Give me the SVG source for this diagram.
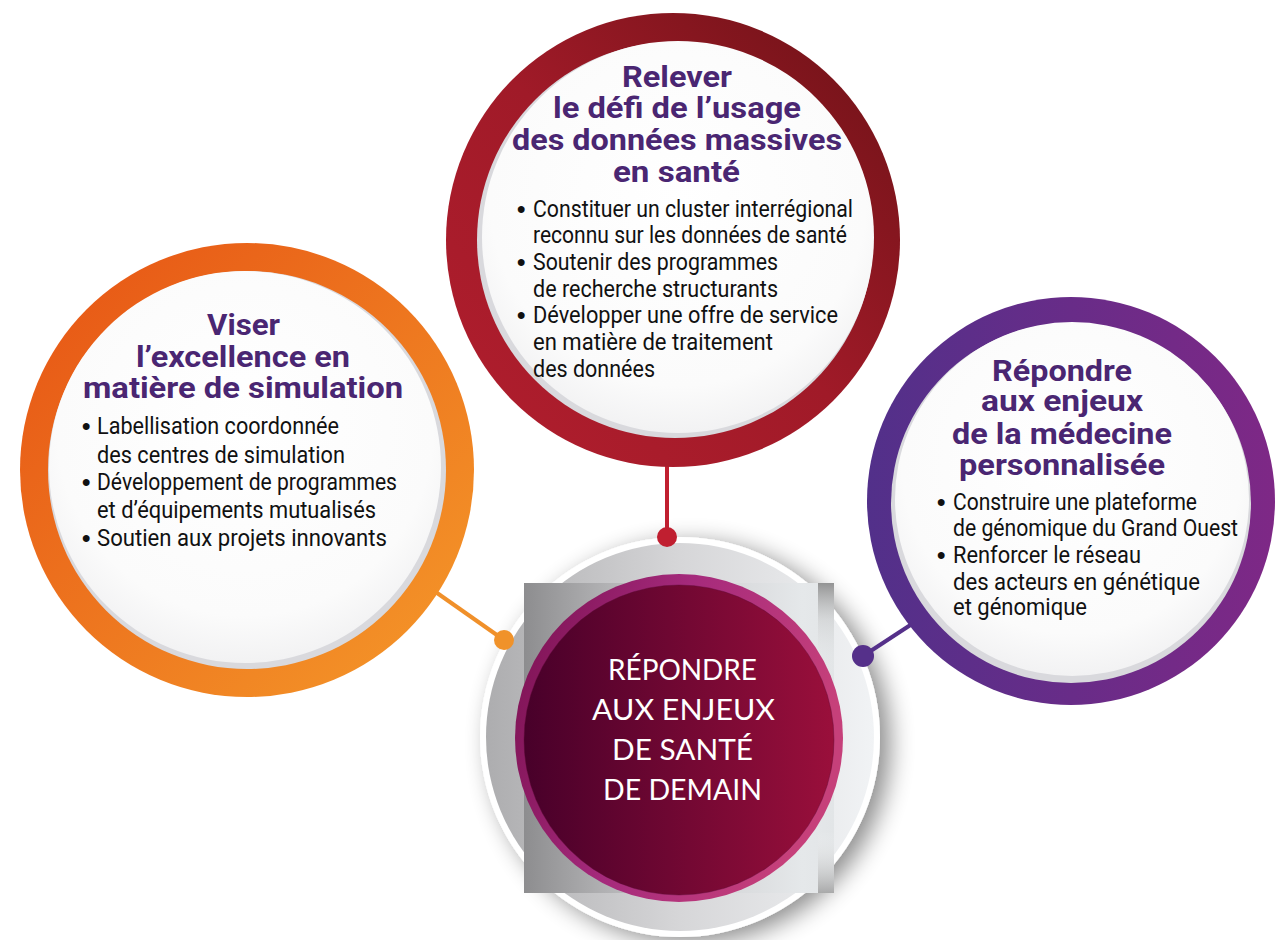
<svg xmlns="http://www.w3.org/2000/svg" width="1285" height="940" viewBox="0 0 1285 940">
<defs>
<linearGradient id="gOrange" x1="0" y1="0" x2="1" y2="1"><stop offset="0" stop-color="#e65214"/><stop offset="1" stop-color="#f59a2a"/></linearGradient>
<linearGradient id="gRed" x1="0" y1="1" x2="1" y2="0"><stop offset="0" stop-color="#b21e2e"/><stop offset="0.5" stop-color="#a01a28"/><stop offset="1" stop-color="#6c1216"/></linearGradient>
<linearGradient id="gPurple" x1="0" y1="0" x2="1" y2="0"><stop offset="0" stop-color="#52308a"/><stop offset="1" stop-color="#7e2886"/></linearGradient>
<radialGradient id="gWhite" cx="0.5" cy="0.4" r="0.6"><stop offset="0" stop-color="#ffffff"/><stop offset="0.8" stop-color="#fbfbfb"/><stop offset="1" stop-color="#f2f2f3"/></radialGradient>
<linearGradient id="gGreyDisc" x1="0" y1="0" x2="1" y2="0"><stop offset="0" stop-color="#adadaf"/><stop offset="0.5" stop-color="#d6d6d8"/><stop offset="1" stop-color="#f1f3f5"/></linearGradient>
<linearGradient id="gSquare" x1="0" y1="0" x2="1" y2="0"><stop offset="0" stop-color="#8d8d8f"/><stop offset="0.45" stop-color="#cbcbcd"/><stop offset="0.9" stop-color="#e5e8ea"/><stop offset="1" stop-color="#e2e5e7"/></linearGradient>
<linearGradient id="gStrip" x1="0" y1="0" x2="0" y2="1"><stop offset="0" stop-color="#8a8a8a" stop-opacity="0.9"/><stop offset="0.12" stop-color="#b8b8b8" stop-opacity="0.3"/><stop offset="0.3" stop-color="#ffffff" stop-opacity="0"/><stop offset="0.8" stop-color="#ffffff" stop-opacity="0"/><stop offset="1" stop-color="#9a9a9a" stop-opacity="0.8"/></linearGradient>
<linearGradient id="gMagenta" x1="0" y1="0" x2="1" y2="0.3"><stop offset="0" stop-color="#7a1050"/><stop offset="0.5" stop-color="#a52a7c"/><stop offset="1" stop-color="#c6407a"/></linearGradient>
<linearGradient id="gDark" x1="0" y1="0" x2="1" y2="0"><stop offset="0" stop-color="#48002a"/><stop offset="1" stop-color="#9a0f3b"/></linearGradient>
<filter id="shadow" x="-30%" y="-30%" width="160%" height="160%"><feGaussianBlur in="SourceAlpha" stdDeviation="12"/><feOffset dx="10" dy="6"/><feComponentTransfer><feFuncA type="linear" slope="0.45"/></feComponentTransfer><feMerge><feMergeNode/><feMergeNode in="SourceGraphic"/></feMerge></filter>
<style>
.title{font-family:"Liberation Sans Narrow","Roboto","Liberation Sans",sans-serif;font-weight:bold;font-size:30px;fill:#4a2672}
.body{font-family:"Liberation Sans Narrow","Roboto","Liberation Sans",sans-serif;font-size:23px;fill:#111111}
.bullet{font-family:"Liberation Sans",sans-serif;font-weight:bold;font-size:24px;fill:#111111}
.center{font-family:"Lato","Liberation Sans",sans-serif;font-size:28px;fill:#ffffff}
.inset{fill:#d9d9dd}
</style>
</defs>
<rect width="1285" height="940" fill="#ffffff"/>

<g id="center-node">
<circle cx="680" cy="737" r="200" fill="#ffffff" filter="url(#shadow)"/>
<circle cx="680" cy="737" r="194" fill="url(#gGreyDisc)"/>
<rect x="524" y="583" width="310" height="310" fill="url(#gSquare)"/>
<rect x="818" y="583" width="16" height="310" fill="url(#gStrip)"/>
<circle cx="679" cy="738" r="164" fill="url(#gMagenta)"/>
<circle cx="679" cy="740" r="155" fill="url(#gDark)" stroke="#5a0a34" stroke-opacity="0.4" stroke-width="1"/>
<text class="center" x="608" y="680" textLength="149" lengthAdjust="spacingAndGlyphs">RÉPONDRE</text>
<text class="center" x="592" y="720" textLength="183" lengthAdjust="spacingAndGlyphs">AUX ENJEUX</text>
<text class="center" x="612" y="760" textLength="141" lengthAdjust="spacingAndGlyphs">DE SANTÉ</text>
<text class="center" x="603" y="800" textLength="159" lengthAdjust="spacingAndGlyphs">DE DEMAIN</text>
</g>

<g id="connectors">
<line x1="667" y1="460" x2="667" y2="537" stroke="#c01f30" stroke-width="4"/>
<circle cx="667" cy="537" r="10" fill="#c01f30"/>
<line x1="420" y1="581" x2="504" y2="640" stroke="#f0902a" stroke-width="4"/>
<circle cx="504" cy="640" r="10" fill="#f0922a"/>
<line x1="915" y1="622" x2="863" y2="656" stroke="#55308a" stroke-width="4"/>
<circle cx="863" cy="656" r="11" fill="#55308a"/>
</g>

<g id="node-simulation">
<circle cx="247" cy="470" r="227" fill="url(#gOrange)"/>
<circle class="inset" cx="247" cy="470" r="199"/>
<circle cx="245" cy="467" r="196" fill="url(#gWhite)"/>
<text class="title" x="207" y="335" textLength="73" lengthAdjust="spacingAndGlyphs">Viser</text>
<text class="title" x="136" y="367" textLength="214" lengthAdjust="spacingAndGlyphs">l’excellence en</text>
<text class="title" x="83" y="398" textLength="320" lengthAdjust="spacingAndGlyphs">matière de simulation</text>
<text class="bullet" x="82" y="434">•</text>
<text class="body" x="97" y="434" textLength="242" lengthAdjust="spacingAndGlyphs">Labellisation coordonnée</text>
<text class="body" x="97" y="463" textLength="248" lengthAdjust="spacingAndGlyphs">des centres de simulation</text>
<text class="bullet" x="82" y="490">•</text>
<text class="body" x="97" y="490" textLength="300" lengthAdjust="spacingAndGlyphs">Développement de programmes</text>
<text class="body" x="97" y="518" textLength="279" lengthAdjust="spacingAndGlyphs">et d’équipements mutualisés</text>
<text class="bullet" x="82" y="546">•</text>
<text class="body" x="97" y="546" textLength="290" lengthAdjust="spacingAndGlyphs">Soutien aux projets innovants</text>
</g>

<g id="node-donnees">
<circle cx="673" cy="240" r="227" fill="url(#gRed)"/>
<circle class="inset" cx="675" cy="240" r="198"/>
<circle cx="678" cy="237" r="196" fill="url(#gWhite)"/>
<text class="title" x="622" y="87" textLength="110" lengthAdjust="spacingAndGlyphs">Relever</text>
<text class="title" x="553" y="118" textLength="248" lengthAdjust="spacingAndGlyphs">le défi de l’usage</text>
<text class="title" x="512" y="150" textLength="330" lengthAdjust="spacingAndGlyphs">des données massives</text>
<text class="title" x="613" y="182" textLength="127" lengthAdjust="spacingAndGlyphs">en santé</text>
<text class="bullet" x="517" y="217">•</text>
<text class="body" x="533" y="217" textLength="320" lengthAdjust="spacingAndGlyphs">Constituer un cluster interrégional</text>
<text class="body" x="533" y="243" textLength="314" lengthAdjust="spacingAndGlyphs">reconnu sur les données de santé</text>
<text class="bullet" x="517" y="270">•</text>
<text class="body" x="533" y="270" textLength="245" lengthAdjust="spacingAndGlyphs">Soutenir des programmes</text>
<text class="body" x="533" y="297" textLength="245" lengthAdjust="spacingAndGlyphs">de recherche structurants</text>
<text class="bullet" x="517" y="323">•</text>
<text class="body" x="533" y="323" textLength="305" lengthAdjust="spacingAndGlyphs">Développer une offre de service</text>
<text class="body" x="533" y="350" textLength="240" lengthAdjust="spacingAndGlyphs">en matière de traitement</text>
<text class="body" x="533" y="377" textLength="122" lengthAdjust="spacingAndGlyphs">des données</text>
</g>

<g id="node-medecine">
<circle cx="1071" cy="501" r="204" fill="url(#gPurple)"/>
<circle class="inset" cx="1071" cy="503" r="180"/>
<circle cx="1072" cy="499" r="177" fill="url(#gWhite)"/>
<text class="title" x="992" y="381" textLength="140" lengthAdjust="spacingAndGlyphs">Répondre</text>
<text class="title" x="981" y="411" textLength="162" lengthAdjust="spacingAndGlyphs">aux enjeux</text>
<text class="title" x="952" y="444" textLength="220" lengthAdjust="spacingAndGlyphs">de la médecine</text>
<text class="title" x="959" y="475" textLength="206" lengthAdjust="spacingAndGlyphs">personnalisée</text>
<text class="bullet" x="937" y="510">•</text>
<text class="body" x="953" y="510" textLength="244" lengthAdjust="spacingAndGlyphs">Construire une plateforme</text>
<text class="body" x="953" y="536" textLength="285" lengthAdjust="spacingAndGlyphs">de génomique du Grand Ouest</text>
<text class="bullet" x="937" y="563">•</text>
<text class="body" x="953" y="563" textLength="188" lengthAdjust="spacingAndGlyphs">Renforcer le réseau</text>
<text class="body" x="953" y="590" textLength="247" lengthAdjust="spacingAndGlyphs">des acteurs en génétique</text>
<text class="body" x="953" y="615" textLength="134" lengthAdjust="spacingAndGlyphs">et génomique</text>
</g>
</svg>
